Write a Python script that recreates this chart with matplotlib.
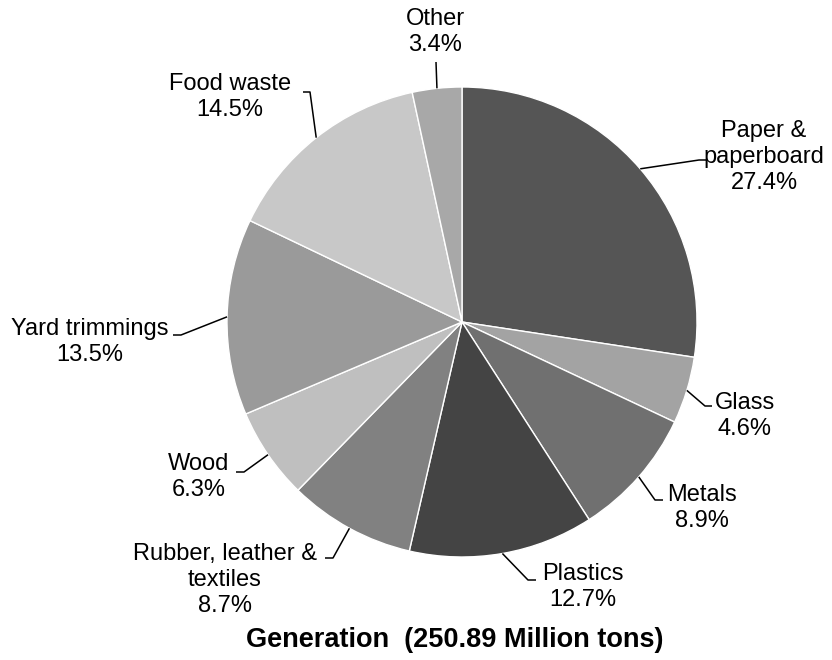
import numpy as np
import matplotlib
matplotlib.use("Agg")
import matplotlib.pyplot as plt

plt.rcParams['font.family'] = ['Liberation Sans', 'DejaVu Sans']

# data
categories = ["Paper &\npaperboard", "Glass", "Metals", "Plastics",
              "Rubber, leather &\ntextiles", "Wood", "Yard trimmings",
              "Food waste", "Other"]
shares = [27.4, 4.6, 8.9, 12.7, 8.7, 6.3, 13.5, 14.5, 3.4]
colors = ["#555555", "#a3a3a3", "#707070", "#444444", "#818181",
          "#bfbfbf", "#9a9a9a", "#c8c8c8", "#a8a8a8"]
title = "Generation  (250.89 Million tons)"

# layout (pixels of the 832x660 image)
W, H = 832, 660
cx, cy, R = 462, 322, 235
# text centre, elbow of the leader line, end of the short horizontal piece
label_pos = [(764, 157), (745, 416), (702, 508), (583, 587),
             (225, 580), (199, 477), (90, 342), (230, 97), (435, 32)]
elbow = [(699, 160), (705, 406), (655, 500), (528, 580),
         (333, 558), (244, 472), (181, 335), (310, 92), (436, 62)]
elbow_end = [(706, 160), (712, 406), (663, 500), (536, 580),
             (325, 558), (236, 472), (173, 335), (303, 92), (436, 62)]


def px(x, y):
    return (x - cx) / R, (cy - y) / R


fig = plt.figure(figsize=(W / 100, H / 100), dpi=100)
ax = fig.add_axes([0, 0, 1, 1])

wedges, _ = ax.pie(shares, colors=colors, startangle=90, counterclock=False,
                   radius=1, center=(0, 0),
                   wedgeprops=dict(edgecolor="white", linewidth=1.0))

for w, lab, val, tp, e, ee in zip(wedges, categories, shares, label_pos, elbow, elbow_end):
    mid = np.deg2rad((w.theta1 + w.theta2) / 2)
    sx, sy = np.cos(mid), np.sin(mid)
    ex, ey = px(*e)
    eex, eey = px(*ee)
    ax.plot([sx, ex, eex], [sy, ey, eey], color="black", lw=1.1,
            solid_capstyle="butt")
    tx, ty = px(*tp)
    ax.text(tx, ty, f"{lab}\n{val}%", ha="center", va="center",
            fontsize=17, linespacing=1.25)

tx, ty = px(455, 640)
ax.text(tx, ty, title, ha="center", va="center", fontsize=19.5, fontweight="bold")

ax.set_xlim(-cx / R, (W - cx) / R)
ax.set_ylim(-(H - cy) / R, cy / R)
ax.set_aspect("equal")
ax.axis("off")

fig.savefig("out.png", dpi=100)
